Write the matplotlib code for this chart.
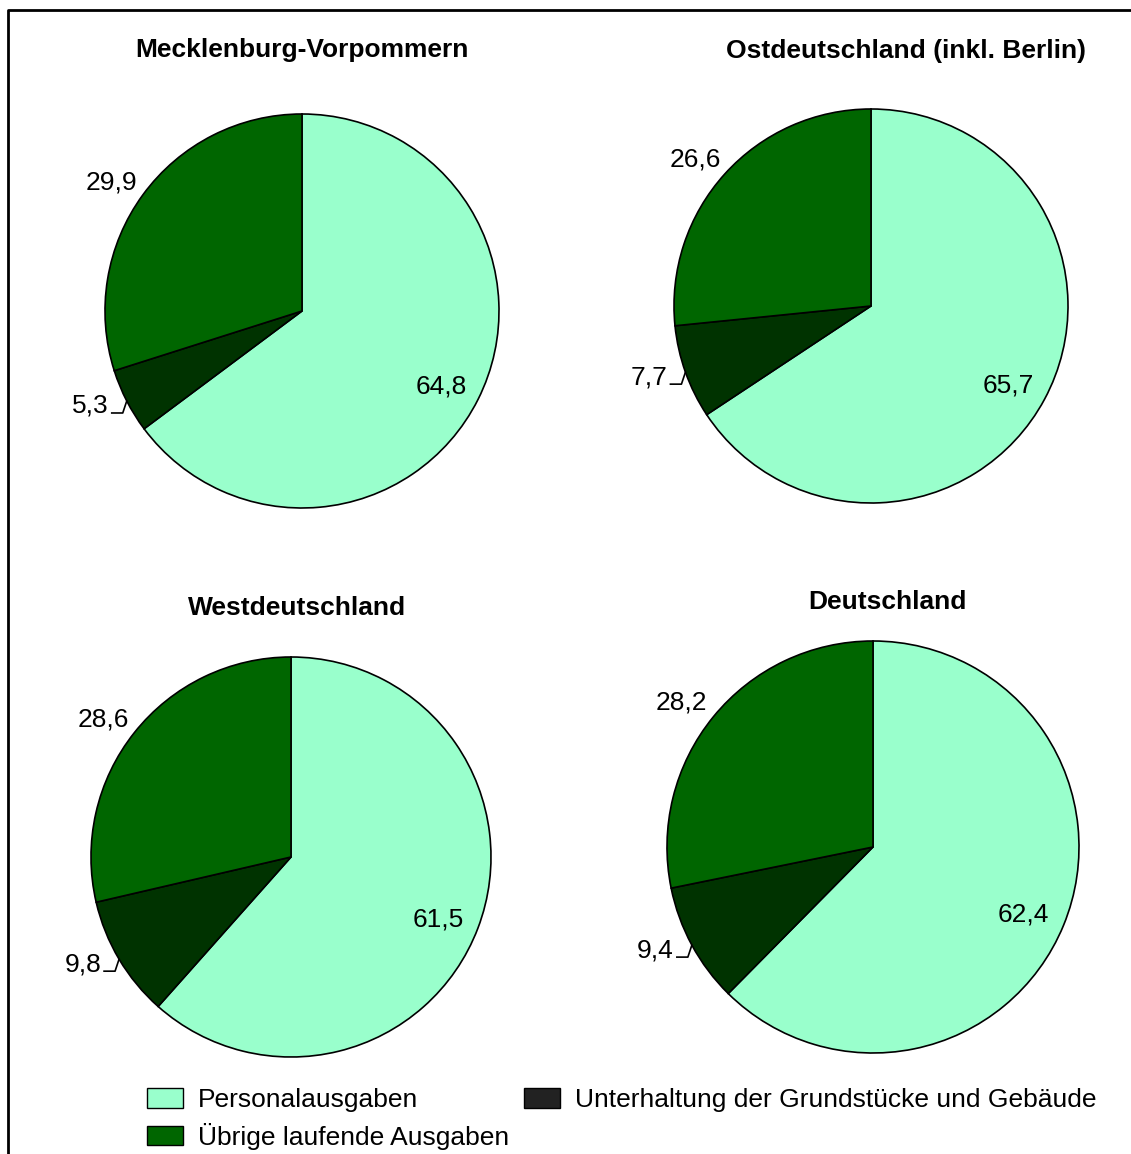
import numpy as np
import matplotlib.pyplot as plt
from matplotlib.patches import Patch

plt.rcParams['font.family'] = ['Liberation Sans', 'DejaVu Sans']

W, H = 1131, 1154

titles = ["Mecklenburg-Vorpommern", "Ostdeutschland (inkl. Berlin)",
          "Westdeutschland", "Deutschland"]
personal = [64.8, 65.7, 61.5, 62.4]
unterhaltung = [5.3, 7.7, 9.8, 9.4]
uebrige = [29.9, 26.6, 28.6, 28.2]
legend_labels = ["Personalausgaben", "Übrige laufende Ausgaben",
                 "Unterhaltung der Grundstücke und Gebäude"]

# layout in pixels (top-left origin)
centers = [(302, 311), (871, 306), (291, 857), (873, 847)]
radii = [197, 197, 200, 206]
title_pos = [(302, 50), (906, 51), (297, 608), (887, 602)]

c_pers = "#99FFCC"
c_unt = "#003300"
c_ueb = "#006600"
FS = 19

def fmt(v):
    return f"{v:.1f}".replace(".", ",")

fig = plt.figure(figsize=(W / 100, H / 100), dpi=100)
ax = fig.add_axes([0, 0, 1, 1])

for i in range(4):
    cx, cy = centers[i]
    cy = H - cy
    r = radii[i]
    vals = [personal[i], unterhaltung[i], uebrige[i]]
    wedges, _ = ax.pie(vals, colors=[c_pers, c_unt, c_ueb], startangle=90,
                       counterclock=False, center=(cx, cy), radius=r,
                       wedgeprops=dict(edgecolor="black", linewidth=1.2))
    mids = [np.deg2rad((w.theta1 + w.theta2) / 2) for w in wedges]

    # Personalausgaben inside
    a = mids[0]
    ax.text(cx + 0.79 * r * np.cos(a), cy + 0.79 * r * np.sin(a) - 6,
            fmt(vals[0]), ha="center", va="center", fontsize=FS)
    # Uebrige outside
    a = mids[2]
    ax.text(cx + 1.18 * r * np.cos(a) - 3, cy + 1.18 * r * np.sin(a) - 9,
            fmt(vals[2]), ha="center", va="center", fontsize=FS)
    # Unterhaltung with leader line
    a = mids[1]
    ex, ey = cx + r * np.cos(a), cy + r * np.sin(a)
    kx, ky = ex - 4, ey - 12
    lx = kx - 11
    ax.plot([ex, kx, lx], [ey, ky, ky], color="black", lw=1.2)
    ax.text(lx - 3, ky, fmt(vals[1]), ha="right", va="baseline", fontsize=FS)

    tx, ty = title_pos[i]
    ax.text(tx, H - ty, titles[i], ha="center", va="center", fontsize=FS,
            fontweight="bold")

# frame (left and top edges visible)
ax.plot([8, 8, W + 5], [-5, H - 10, H - 10], color="black", lw=2)

ax.set_xlim(0, W)
ax.set_ylim(0, H)
ax.set_aspect("auto")
ax.set_axis_off()

handles = [Patch(facecolor=c_pers, edgecolor="black"),
           Patch(facecolor=c_ueb, edgecolor="black"),
           Patch(facecolor="#222222", edgecolor="black")]
fig.legend(handles, legend_labels, ncol=2, loc="upper left",
           bbox_to_anchor=(147 / W, 1 - 1088 / H), borderaxespad=0,
           borderpad=0, frameon=False, fontsize=FS, handlelength=1.36,
           handleheight=0.76, handletextpad=0.57, columnspacing=0.56,
           labelspacing=0.41)

fig.savefig("out.png", dpi=100)
